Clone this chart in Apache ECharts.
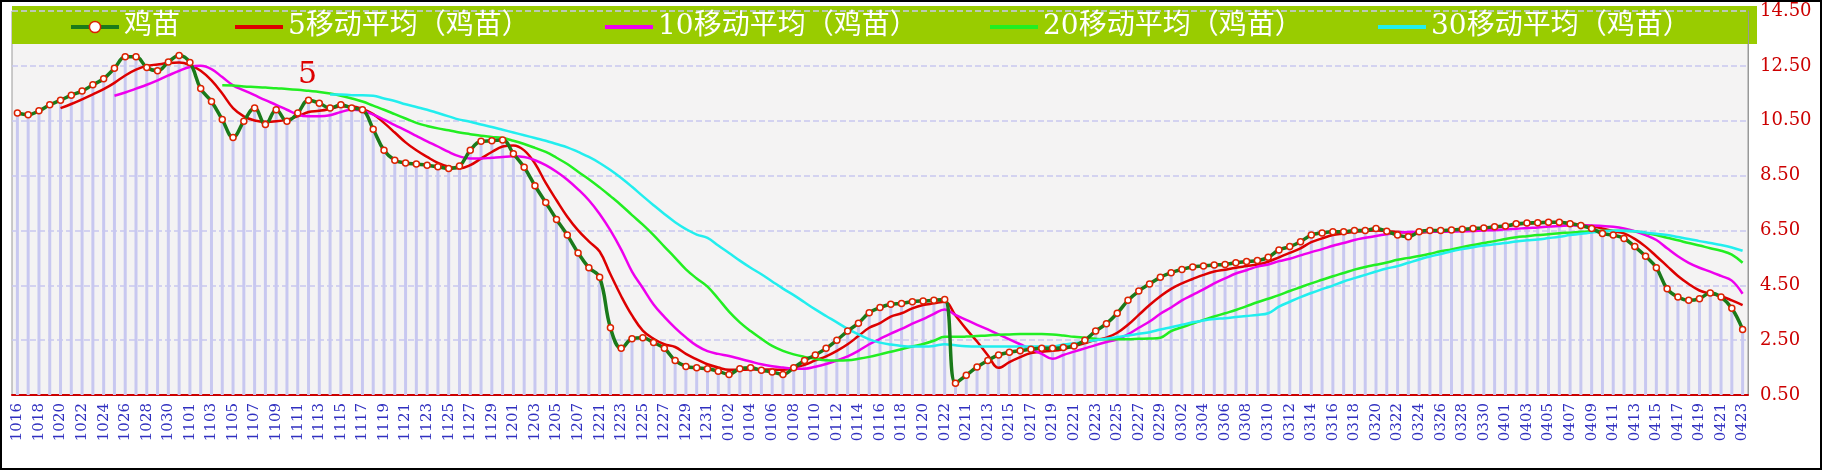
<!DOCTYPE html>
<html>
<head>
<meta charset="utf-8">
<script src="https://cdn.jsdelivr.net/npm/echarts@6/dist/echarts.min.js"></script>
<style>
html,body{margin:0;padding:0;background:#fff;}
#chart{width:1822px;height:470px;box-sizing:border-box;border:2px solid #000;}
</style>
</head>
<body>
<div id="chart"></div>
<script>
// 日期（每两天标注一次）
const dates = [
  '1016','1017','1018','1019','1020','1021','1022','1023','1024','1025','1026','1027','1028','1029','1030','1031',
  '1101','1102','1103','1104','1105','1106','1107','1108','1109','1110','1111','1112','1113','1114','1115','1116','1117','1118','1119','1120','1121','1122','1123','1124','1125','1126','1127','1128','1129','1130',
  '1201','1202','1203','1204','1205','1206','1207','1220','1221','1222','1223','1224','1225','1226','1227','1228','1229','1230','1231',
  '0101','0102','0103','0104','0105','0106','0107','0108','0109','0110','0111','0112','0113','0114','0115','0116','0117','0118','0119','0120','0121','0122','0123',
  '0211','0212','0213','0214','0215','0216','0217','0218','0219','0220','0221','0222','0223','0224','0225','0226','0227','0228','0229',
  '0301','0302','0303','0304','0305','0306','0307','0308','0309','0310','0311','0312','0313','0314','0315','0316','0317','0318','0319','0320','0321','0322','0323','0324','0325','0326','0327','0328','0329','0330','0331',
  '0401','0402','0403','0404','0405','0406','0407','0408','0409','0410','0411','0412','0413','0414','0415','0416','0417','0418','0419','0420','0421','0422','0423'
];

const price = [
  10.78,10.72,10.86,11.08,11.25,11.43,11.58,11.81,12.03,12.41,
  12.83,12.83,12.44,12.32,12.64,12.88,12.62,11.67,11.2,10.54,
  9.89,10.48,10.96,10.36,10.9,10.48,10.78,11.25,11.14,10.96,
  11.08,10.96,10.9,10.19,9.42,9.06,8.96,8.92,8.88,8.82,
  8.76,8.85,9.42,9.75,9.77,9.8,9.3,8.8,8.13,7.52,
  6.9,6.33,5.68,5.14,4.79,2.95,2.2,2.55,2.59,2.41,
  2.2,1.76,1.54,1.49,1.46,1.37,1.25,1.46,1.49,1.4,
  1.34,1.25,1.49,1.76,1.96,2.2,2.5,2.83,3.12,3.5,
  3.69,3.81,3.84,3.9,3.93,3.95,3.98,0.93,1.22,1.52,
  1.76,1.96,2.06,2.11,2.17,2.2,2.2,2.23,2.29,2.5,
  2.83,3.1,3.48,3.95,4.29,4.55,4.79,4.96,5.08,5.17,
  5.2,5.24,5.26,5.32,5.37,5.4,5.52,5.79,5.91,6.09,
  6.33,6.41,6.45,6.45,6.5,6.5,6.57,6.47,6.33,6.27,
  6.45,6.5,6.5,6.52,6.54,6.57,6.59,6.63,6.66,6.74,
  6.77,6.78,6.8,6.8,6.74,6.68,6.57,6.39,6.33,6.21,
  5.91,5.56,5.14,4.37,4.07,3.95,4.01,4.22,4.07,3.66,2.89
];

const ma5 = [
  '-','-','-','-',10.96,11.11,11.28,11.46,11.65,11.88,
  12.15,12.36,12.5,12.55,12.6,12.62,12.53,12.32,11.97,11.49,
  10.96,10.66,10.51,10.46,10.48,10.54,10.66,10.82,10.86,10.93,
  11.02,11.02,10.93,10.74,10.42,10.07,9.71,9.42,9.18,8.96,
  8.82,8.76,8.88,9.12,9.36,9.56,9.6,9.42,8.94,8.23,
  7.6,7.0,6.5,6.1,5.73,4.9,4.1,3.4,2.85,2.55,
  2.35,2.25,2.0,1.8,1.62,1.5,1.42,1.42,1.43,1.43,
  1.43,1.42,1.49,1.6,1.76,1.91,2.11,2.35,2.65,2.95,
  3.12,3.36,3.48,3.66,3.78,3.84,3.9,3.4,2.9,2.45,
  1.95,1.49,1.7,1.88,2.03,2.08,2.11,2.17,2.27,2.39,
  2.5,2.59,2.77,3.06,3.42,3.78,4.1,4.37,4.57,4.73,
  4.88,5.0,5.07,5.14,5.2,5.26,5.36,5.52,5.68,5.85,
  6.07,6.21,6.33,6.39,6.45,6.48,6.5,6.47,6.45,6.42,
  6.42,6.45,6.47,6.49,6.52,6.54,6.59,6.63,6.66,6.71,
  6.74,6.77,6.78,6.78,6.76,6.71,6.66,6.57,6.47,6.39,
  6.19,5.91,5.56,5.2,4.84,4.55,4.31,4.19,4.1,3.95,3.78
];

const ma10 = [
  '-','-','-','-','-','-','-','-','-',11.41,
  11.53,11.67,11.81,11.97,12.15,12.32,12.46,12.5,12.38,12.09,
  11.79,11.61,11.43,11.25,11.08,10.9,10.72,10.66,10.66,10.7,
  10.82,10.9,10.86,10.72,10.54,10.34,10.15,9.95,9.75,9.56,
  9.36,9.2,9.12,9.12,9.15,9.18,9.2,9.18,9.06,8.88,
  8.64,8.35,8.0,7.6,7.1,6.5,5.8,5.0,4.4,3.8,
  3.35,2.95,2.6,2.3,2.1,2.0,1.92,1.82,1.72,1.62,
  1.55,1.5,1.46,1.46,1.53,1.63,1.76,1.91,2.11,2.35,
  2.55,2.74,2.91,3.1,3.27,3.46,3.62,3.42,3.24,3.06,
  2.89,2.71,2.53,2.35,2.17,2.0,1.82,1.96,2.08,2.2,
  2.32,2.43,2.53,2.71,2.95,3.18,3.46,3.69,3.95,4.15,
  4.35,4.57,4.75,4.93,5.05,5.18,5.26,5.38,5.47,5.59,
  5.71,5.82,5.94,6.04,6.15,6.23,6.3,6.36,6.41,6.44,
  6.45,6.45,6.45,6.46,6.47,6.48,6.5,6.51,6.54,6.56,
  6.59,6.61,6.64,6.66,6.68,6.68,6.68,6.66,6.63,6.57,
  6.47,6.33,6.15,5.85,5.56,5.32,5.14,5.0,4.84,4.67,4.19
];

const ma20 = [
  '-','-','-','-','-','-','-','-','-','-',
  '-','-','-','-','-','-','-','-','-',11.79,
  11.78,11.75,11.73,11.71,11.68,11.66,11.63,11.59,11.55,11.49,
  11.41,11.31,11.2,11.05,10.9,10.74,10.58,10.42,10.31,10.22,
  10.15,10.07,10.01,9.95,9.91,9.87,9.77,9.65,9.51,9.36,
  9.15,8.92,8.64,8.37,8.07,7.75,7.42,7.06,6.71,6.33,
  5.91,5.5,5.08,4.75,4.45,4.01,3.54,3.15,2.83,2.55,
  2.29,2.11,1.98,1.89,1.82,1.77,1.76,1.77,1.82,1.89,
  1.98,2.08,2.17,2.27,2.36,2.48,2.62,2.62,2.63,2.65,
  2.67,2.7,2.71,2.72,2.72,2.72,2.71,2.67,2.62,2.59,
  2.55,2.53,2.53,2.53,2.55,2.56,2.59,2.83,2.97,3.1,
  3.24,3.36,3.48,3.6,3.74,3.88,4.01,4.14,4.29,4.43,
  4.57,4.7,4.83,4.95,5.07,5.17,5.25,5.33,5.43,5.5,
  5.57,5.65,5.74,5.81,5.89,5.97,6.04,6.11,6.19,6.25,
  6.29,6.33,6.36,6.4,6.42,6.45,6.47,6.49,6.49,6.48,
  6.47,6.41,6.33,6.23,6.14,6.04,5.95,5.85,5.76,5.62,5.32
];

const ma30 = [
  '-','-','-','-','-','-','-','-','-','-',
  '-','-','-','-','-','-','-','-','-','-',
  '-','-','-','-','-','-','-','-','-',11.46,
  11.46,11.43,11.43,11.41,11.31,11.22,11.1,11.0,10.9,10.78,
  10.66,10.54,10.46,10.36,10.27,10.17,10.07,9.97,9.87,9.77,
  9.65,9.53,9.36,9.18,8.96,8.7,8.41,8.09,7.75,7.42,
  7.1,6.8,6.55,6.35,6.23,5.95,5.68,5.4,5.14,4.9,
  4.64,4.38,4.14,3.88,3.62,3.38,3.15,2.91,2.71,2.53,
  2.41,2.34,2.29,2.27,2.27,2.29,2.35,2.31,2.28,2.27,
  2.27,2.27,2.27,2.27,2.27,2.27,2.27,2.34,2.39,2.44,
  2.5,2.55,2.61,2.67,2.73,2.79,2.89,2.97,3.06,3.15,
  3.22,3.27,3.3,3.34,3.38,3.42,3.48,3.72,3.9,4.07,
  4.22,4.36,4.49,4.64,4.76,4.88,5.0,5.11,5.2,5.32,
  5.44,5.55,5.64,5.74,5.82,5.89,5.95,6.0,6.04,6.1,
  6.14,6.17,6.22,6.27,6.33,6.38,6.42,6.47,6.49,6.49,
  6.47,6.42,6.38,6.33,6.26,6.19,6.11,6.04,5.97,5.88,5.76
];

const yTicks = { min: 0.5, max: 14.5, step: 2 };

const serif = 'DejaVu Serif, Liberation Serif, Noto Sans CJK SC, serif';
const names = ['鸡苗', '5移动平均（鸡苗）', '10移动平均（鸡苗）', '20移动平均（鸡苗）', '30移动平均（鸡苗）'];
const colors = ['#1a7a1a', '#dd0000', '#ee00ee', '#22ee22', '#22eeee'];
const legendLeft = [62, 228, 598, 983, 1371];

const chart = echarts.init(document.getElementById('chart'));

function maSeries(name, data, color) {
    return {
        name: name, type: 'line', data: data, smooth: 0.4, symbol: 'none',
        lineStyle: { color: color, width: 2.5 }, itemStyle: { color: color }, z: 3
    };
}

const option = {
    animation: false,
    backgroundColor: '#fff',
    graphic: [
        { type: 'rect', left: 10, top: 4, z: 0, shape: { width: 1745, height: 38 }, style: { fill: '#99cc00' } },
        { type: 'text', left: 296, top: 58, z: 10, style: { text: '5', fill: '#dd0000', font: '30px ' + serif } }
    ],
    legend: names.map((n, i) => (i === 0 ? {
        data: [n], left: legendLeft[i], top: 6, z: 10,
        itemWidth: 48, itemHeight: 14,
        textStyle: { color: '#fff', fontSize: 28, fontFamily: serif },
        itemStyle: { color: '#fff', borderColor: '#dd2200', borderWidth: 1.5 },
        lineStyle: { width: 4 }
    } : {
        data: [n], left: legendLeft[i], top: 6, z: 10,
        icon: 'rect', itemWidth: 48, itemHeight: 4,
        textStyle: { color: '#fff', fontSize: 28, fontFamily: serif }
    })),
    grid: {
        left: 10, right: 72, top: 4, bottom: 73, show: true,
        backgroundColor: '#f4f3f3', borderColor: '#999', borderWidth: 1
    },
    xAxis: {
        type: 'category', data: dates, boundaryGap: true,
        axisLine: { lineStyle: { color: '#cc0000', width: 2 } },
        axisTick: { inside: true, length: 7, interval: 1, alignWithLabel: true, lineStyle: { color: '#cc0000', width: 2 } },
        axisLabel: { interval: 1, rotate: 90, color: '#3030c0', fontSize: 15, fontFamily: serif, margin: 8 }
    },
    yAxis: {
        type: 'value', position: 'right', min: yTicks.min, max: yTicks.max, interval: yTicks.step,
        axisLine: { show: true, lineStyle: { color: '#999' } },
        axisTick: { show: false },
        axisLabel: { color: '#cc0000', fontSize: 18, fontFamily: serif, margin: 12, formatter: v => v.toFixed(2) },
        splitLine: { lineStyle: { color: '#c8c8f0', type: 'dashed', width: 1.5 } }
    },
    series: [
        {
            name: 'bar', type: 'bar', data: price, barWidth: 3, silent: true,
            itemStyle: { color: '#c8c8f0' }, z: 1
        },
        {
            name: names[0], type: 'line', data: price, smooth: 0.4,
            symbol: 'circle', symbolSize: 6, showSymbol: true,
            lineStyle: { color: colors[0], width: 3.5 },
            itemStyle: { color: '#fff', borderColor: '#dd2200', borderWidth: 1.5 }, z: 4
        },
        maSeries(names[1], ma5, colors[1]),
        maSeries(names[2], ma10, colors[2]),
        maSeries(names[3], ma20, colors[3]),
        maSeries(names[4], ma30, colors[4])
    ]
};
chart.setOption(option);
</script>
</body>
</html>
